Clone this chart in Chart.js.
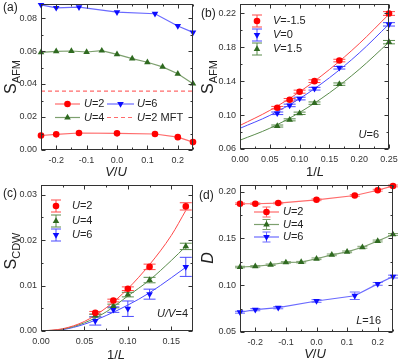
<!DOCTYPE html>
<html>
<head>
<meta charset="utf-8">
<script src="https://cdn.jsdelivr.net/npm/chart.js@4.4.0/dist/chart.umd.min.js"></script>
<style>
html, body { margin: 0; padding: 0; background: #fff; }
#fig { position: relative; width: 399px; height: 362px; }
#fig canvas { position: absolute; }
</style>
</head>
<body>
<div id="fig">
  <canvas id="pa" width="200" height="181" style="left:0;top:0"></canvas>
  <canvas id="pb" width="200" height="181" style="left:199px;top:0"></canvas>
  <canvas id="pc" width="200" height="181" style="left:0;top:181px"></canvas>
  <canvas id="pd" width="200" height="181" style="left:199px;top:181px"></canvas>
</div>
<script>
// ---- data (a): S_AFM vs V/U, L=16
const vuCoarse = [-0.25, -0.2, -0.125, 0, 0.125, 0.2, 0.25];
const vuFine = [-0.25, -0.2, -0.15, -0.1, -0.05, 0, 0.05, 0.1, 0.15, 0.2, 0.25];
const afmU2 = [0.0088, 0.0095, 0.0103, 0.0101, 0.0097, 0.0078, 0.0048];
const afmU4 = [0.0592, 0.0598, 0.0600, 0.0594, 0.0602, 0.0580, 0.0554, 0.0532, 0.0504, 0.0462, 0.0402];
const afmU6 = [0.0880, 0.0862, 0.0866, 0.0836, 0.0826, 0.0752, 0.0713];
const afmMftU2 = 0.0357;

// ---- data (b): S_AFM vs 1/L, U=6
const invL = [0.0625, 0.0833, 0.1, 0.125, 0.1667, 0.25];
const afmVm15 = [0.1087, 0.1180, 0.1276, 0.1400, 0.1643, 0.2198];
const afmV0 = [0.1021, 0.1114, 0.1195, 0.1311, 0.1558, 0.2070];
const afmVp15 = [0.0871, 0.0944, 0.1021, 0.1141, 0.1365, 0.1860];
const errVm15 = [0.0015, 0.0015, 0.0018, 0.0016, 0.0015, 0.0022];
const errV0 = [0.0015, 0.0015, 0.0016, 0.0016, 0.0015, 0.0020];
const errVp15 = [0.0012, 0.0012, 0.0014, 0.0014, 0.0014, 0.0020];
const fitXb = [0, 0.05, 0.1, 0.15, 0.2, 0.25];
const fitVm15 = [0.0878, 0.1055, 0.1274, 0.1537, 0.1842, 0.2190];
const fitV0 = [0.0844, 0.0996, 0.1194, 0.1440, 0.1732, 0.2072];
const fitVp15 = [0.0704, 0.0845, 0.1031, 0.1262, 0.1539, 0.1860];

// ---- data (c): S_CDW vs 1/L, U/V=4
const invLc = [0.0625, 0.0833, 0.1, 0.125, 0.1667];
const cdwU2 = [0.0040, 0.0067, 0.0093, 0.0141, 0.0274];
const cdwU4 = [0.0034, 0.0055, 0.0080, 0.0112, 0.0186];
const cdwU6 = [0.0022, 0.0047, 0.0049, 0.0081, 0.0141];
const errCdwU2 = [0.0003, 0.0003, 0.0004, 0.0006, 0.0008];
const errCdwU4 = [0.0003, 0.0004, 0.0005, 0.0006, 0.0007];
const errCdwU6 = [0.0009, 0.0006, 0.0017, 0.0011, 0.0021];
const fitXc = [0, 0.025, 0.05, 0.075, 0.1, 0.125, 0.15, 0.1667];
const fitCdwU2 = [0, 0.0005, 0.0021, 0.0051, 0.0093, 0.0146, 0.0210, 0.0265];
const fitCdwU4 = [0, 0.0004, 0.0018, 0.0042, 0.0077, 0.0112, 0.0155, 0.0186];
const fitCdwU6 = [0, 0.0003, 0.0015, 0.0034, 0.0057, 0.0084, 0.0117, 0.0140];

// ---- data (d): D vs V/U, L=16
const dU2 = [0.1870, 0.1870, 0.1877, 0.1912, 0.1958, 0.2014, 0.2060];
const dU4 = [0.1194, 0.1201, 0.1218, 0.1243, 0.1246, 0.1282, 0.1324, 0.1356, 0.1405, 0.1472, 0.1542];
const dU6 = [0.0711, 0.0739, 0.0760, 0.0831, 0.0887, 0.1014, 0.1092];
const errDU2 = [0.0008, 0.0008, 0.0008, 0.0009, 0.0009, 0.0010, 0.0010];
const errDU4 = [0.0008, 0.0008, 0.0008, 0.0008, 0.0008, 0.0009, 0.0009, 0.0009, 0.0010, 0.0010, 0.0010];
const errDU6 = [0.0010, 0.0012, 0.0012, 0.0014, 0.0040, 0.0015, 0.0015];

// ---- ticks
const ticksVU = [-0.2, -0.1, 0, 0.1, 0.2];
const minorVU = [-0.25, -0.15, -0.05, 0.05, 0.15, 0.25];
const ticksYa = [0, 0.02, 0.04, 0.06, 0.08];
const minorYa = [0.01, 0.03, 0.05, 0.07];
const ticksXb = [0, 0.05, 0.1, 0.15, 0.2, 0.25];
const minorXb = [0.025, 0.075, 0.125, 0.175, 0.225];
const ticksYb = [0.06, 0.10, 0.14, 0.18, 0.22];
const minorYb = [0.08, 0.12, 0.16, 0.20];
const ticksXc = [0, 0.05, 0.1, 0.15];
const minorXc = [0.025, 0.075, 0.125];
const ticksYc = [0, 0.01, 0.02, 0.03];
const minorYc = [0.005, 0.015, 0.025];
const ticksYd = [0.05, 0.10, 0.15, 0.20];
const minorYd = [0.075, 0.125, 0.175];

const FONT = '"Liberation Sans", Arial, sans-serif';
const RED = "#ff0000", RED_LN = "#ff6b6b", RED_FIT = "#ff4848";
const BLUE = "#0c0cff", BLUE_LN = "#6a6aff", BLUE_FIT = "#4a4aff";
const GREEN = "#2f6a20", GREEN_LN = "#7da06e", GREEN_FIT = "#5a8c4c";

const pts = (xs, ys) => xs.map((x, i) => ({ x: x, y: ys[i] }));

const series = (xs, ys, mk, ln, style, extra) => Object.assign({
  data: pts(xs, ys),
  borderColor: ln, backgroundColor: mk,
  pointBackgroundColor: mk, pointBorderColor: mk,
  pointStyle: style === "down" ? "triangle" : style,
  pointRotation: style === "down" ? 180 : 0,
  pointRadius: style === "circle" ? 3.3 : 3.8,
  pointBorderWidth: 0,
  borderWidth: 1.2, showLine: true, clip: false, tension: 0,
  errColor: ln
}, extra || {});

const fitLine = (xs, ys, col) => ({
  data: pts(xs, ys), borderColor: col, borderWidth: 1,
  pointRadius: 0, showLine: true, tension: 0.4, cubicInterpolationMode: "monotone"
});

const errorBars = {
  id: "errorBars",
  beforeDatasetsDraw(chart) {
    const ctx = chart.ctx, ys = chart.scales.y;
    chart.data.datasets.forEach((ds, i) => {
      if (!ds.errors) return;
      const meta = chart.getDatasetMeta(i);
      ctx.save();
      ctx.strokeStyle = ds.errColor;
      ctx.lineWidth = 1;
      meta.data.forEach((p, j) => {
        const v = ds.data[j].y, e = ds.errors[j], c = ds.capW || 5;
        const y1 = ys.getPixelForValue(v + e), y2 = ys.getPixelForValue(v - e);
        ctx.beginPath();
        ctx.moveTo(p.x, y1); ctx.lineTo(p.x, y2);
        ctx.moveTo(p.x - c, y1); ctx.lineTo(p.x + c, y1);
        ctx.moveTo(p.x - c, y2); ctx.lineTo(p.x + c, y2);
        ctx.stroke();
      });
      ctx.restore();
    });
  }
};

// text with italic pieces: parts = [[text, italic], ...]
function rich(ctx, parts, x, y, size, align) {
  let w = 0;
  parts.forEach(p => { ctx.font = (p[1] ? "italic " : "") + size + "px " + FONT; w += ctx.measureText(p[0]).width; });
  let cx = align === "right" ? x - w : align === "center" ? x - w / 2 : x;
  ctx.textAlign = "left"; ctx.textBaseline = "middle";
  parts.forEach(p => {
    ctx.font = (p[1] ? "italic " : "") + size + "px " + FONT;
    ctx.fillText(p[0], cx, y);
    cx += ctx.measureText(p[0]).width;
  });
}

function marker(ctx, ds, x, y) {
  ctx.fillStyle = ds.pointBackgroundColor;
  ctx.strokeStyle = ds.pointBackgroundColor;
  Chart.helpers.drawPoint(ctx, { pointStyle: ds.pointStyle, rotation: ds.pointRotation, radius: ds.pointRadius, borderWidth: 0 }, x, y);
}

function deco(o) {
  return {
    id: "deco",
    afterDraw(chart) {
      const ctx = chart.ctx, a = chart.chartArea, xs = chart.scales.x, ys = chart.scales.y;
      const L = Math.round(a.left) + 0.5, R = Math.round(a.right) - 0.5;
      const T = Math.round(a.top) + 0.5, B = Math.round(a.bottom) - 0.5;
      ctx.save();
      ctx.strokeStyle = "#333"; ctx.lineWidth = 1;
      ctx.strokeRect(L, T, R - L, B - T);
      const tk = (vals, len, sc, horiz) => vals.forEach(v => {
        const p = Math.round(sc.getPixelForValue(v)) + 0.5;
        ctx.beginPath();
        if (horiz) { ctx.moveTo(p, B); ctx.lineTo(p, B - len); ctx.moveTo(p, T); ctx.lineTo(p, T + len); }
        else { ctx.moveTo(L, p); ctx.lineTo(L + len, p); ctx.moveTo(R, p); ctx.lineTo(R - len, p); }
        ctx.stroke();
      });
      tk(o.x.ticks, 4, xs, true); tk(o.x.minor, 2, xs, true);
      tk(o.y.ticks, 4, ys, false); tk(o.y.minor, 2, ys, false);

      ctx.fillStyle = "#222";
      rich(ctx, [[o.tag, 0]], o.tagPos[0], o.tagPos[1], 12, "left");
      rich(ctx, o.xTitle, o.xTitlePos[0], o.xTitlePos[1], 13, "center");
      // rotated y title with subscript
      ctx.save();
      ctx.translate(o.yTitlePos[0], o.yTitlePos[1]);
      ctx.rotate(-Math.PI / 2);
      ctx.font = (o.yTitle[2] ? "italic " : "") + "16px " + FONT;
      const w1 = ctx.measureText(o.yTitle[0]).width;
      ctx.font = "11px " + FONT;
      const w2 = ctx.measureText(o.yTitle[1]).width;
      let sx = -(w1 + w2) / 2;
      ctx.textBaseline = "middle"; ctx.textAlign = "left";
      ctx.font = (o.yTitle[2] ? "italic " : "") + "16px " + FONT;
      ctx.fillText(o.yTitle[0], sx, 0);
      ctx.font = "11px " + FONT;
      ctx.fillText(o.yTitle[1], sx + w1, 5);
      ctx.restore();

      if (o.note) rich(ctx, o.note, o.notePos[0], o.notePos[1], 11, "right");

      o.legend.forEach(e => {
        const ds = chart.data.datasets[e.ds];
        ctx.save();
        ctx.lineWidth = 1.2;
        if (e.kind === "line" || e.kind === "lineErr" || e.kind === "dash") {
          ctx.strokeStyle = ds.borderColor;
          if (e.kind === "dash") ctx.setLineDash([4, 3]);
          ctx.beginPath(); ctx.moveTo(e.x - e.half, e.y); ctx.lineTo(e.x + e.half, e.y); ctx.stroke();
          ctx.setLineDash([]);
        }
        if (e.kind === "err" || e.kind === "lineErr") {
          const h = e.kind === "err" ? 6 : 5, c = e.kind === "err" ? 5 : 4;
          ctx.strokeStyle = ds.errColor; ctx.lineWidth = 1;
          ctx.beginPath();
          ctx.moveTo(e.x, e.y - h); ctx.lineTo(e.x, e.y + h);
          ctx.moveTo(e.x - c, e.y - h); ctx.lineTo(e.x + c, e.y - h);
          ctx.moveTo(e.x - c, e.y + h); ctx.lineTo(e.x + c, e.y + h);
          ctx.stroke();
        }
        if (e.kind !== "dash") marker(ctx, ds, e.x, e.y);
        ctx.restore();
        ctx.fillStyle = "#222";
        rich(ctx, e.label, e.tx, e.y, 11, "left");
      });
      ctx.restore();
    }
  };
}

function panel(id, datasets, o) {
  const tickFont = { family: FONT, size: 9 };
  return new Chart(document.getElementById(id), {
    type: "line",
    data: { datasets: datasets },
    options: {
      responsive: false, animation: false, devicePixelRatio: 1,
      layout: { padding: { left: 0, top: o.area[2], right: 200 - o.area[1], bottom: 0 } },
      plugins: { legend: { display: false }, tooltip: { enabled: false } },
      scales: {
        x: {
          type: "linear", min: o.x.min, max: o.x.max,
          grid: { display: false, drawTicks: false }, border: { display: false },
          afterBuildTicks: s => { s.ticks = o.x.ticks.map(v => ({ value: v })); },
          afterFit: s => { s.height = 181 - o.area[3]; s.paddingLeft = 0; s.paddingRight = 0; },
          ticks: { padding: 5, color: "#333", font: tickFont, maxRotation: 0, autoSkip: false,
                   callback: v => v.toFixed(o.x.dec) }
        },
        y: {
          type: "linear", min: o.y.min, max: o.y.max,
          grid: { display: false, drawTicks: false }, border: { display: false },
          afterBuildTicks: s => { s.ticks = o.y.ticks.map(v => ({ value: v })); },
          afterFit: s => { s.width = o.area[0]; s.paddingTop = 0; s.paddingBottom = 0; },
          ticks: { padding: 4, color: "#333", font: tickFont, autoSkip: false,
                   callback: v => v.toFixed(o.y.dec) }
        }
      }
    },
    plugins: [errorBars, deco(o)]
  });
}

// (a)
panel("pa", [
  series(vuCoarse, afmU2, RED, RED_LN, "circle"),
  series(vuFine, afmU4, GREEN, GREEN_LN, "triangle"),
  series(vuCoarse, afmU6, BLUE, BLUE_LN, "down"),
  { data: pts([-0.25, 0.25], [afmMftU2, afmMftU2]), borderColor: RED_LN, borderWidth: 1.2,
    borderDash: [4, 3], pointRadius: 0, showLine: true }
], {
  area: [41, 193, 1, 150],
  x: { min: -0.25, max: 0.25, ticks: ticksVU, minor: minorVU, dec: 1 },
  y: { min: 0, max: 0.0885, ticks: ticksYa, minor: minorYa, dec: 2 },
  tag: "(a)", tagPos: [3, 8],
  xTitle: [["V", 1], ["/", 0], ["U", 1]], xTitlePos: [116, 172],
  yTitle: ["S", "AFM", 0], yTitlePos: [12, 77],
  legend: [
    { ds: 0, kind: "line", x: 67.5, half: 12.5, y: 104, tx: 84, label: [["U", 1], ["=2", 0]] },
    { ds: 1, kind: "line", x: 67.5, half: 12.5, y: 117.5, tx: 84, label: [["U", 1], ["=4", 0]] },
    { ds: 2, kind: "line", x: 120.5, half: 13.5, y: 104, tx: 137, label: [["U", 1], ["=6", 0]] },
    { ds: 3, kind: "dash", x: 120.5, half: 13.5, y: 117.5, tx: 137, label: [["U", 1], ["=2 MFT", 0]] }
  ]
});

// (b)
panel("pb", [
  series(invL, afmVm15, RED, RED_FIT, "circle", { showLine: false, errors: errVm15, capW: 6 }),
  series(invL, afmV0, BLUE, BLUE_FIT, "down", { showLine: false, errors: errV0, capW: 6 }),
  series(invL, afmVp15, GREEN, GREEN_FIT, "triangle", { showLine: false, errors: errVp15, capW: 6 }),
  fitLine(fitXb, fitVm15, RED_FIT),
  fitLine(fitXb, fitV0, BLUE_FIT),
  fitLine(fitXb, fitVp15, GREEN_FIT)
], {
  area: [41, 190, 1, 149],
  x: { min: 0, max: 0.25, ticks: ticksXb, minor: minorXb, dec: 2 },
  y: { min: 0.06, max: 0.231, ticks: ticksYb, minor: minorYb, dec: 2 },
  tag: "(b)", tagPos: [2, 14],
  xTitle: [["1/", 0], ["L", 1]], xTitlePos: [116, 172],
  yTitle: ["S", "AFM", 0], yTitlePos: [10, 77],
  note: [["U", 1], ["=6", 0]], notePos: [180, 135],
  legend: [
    { ds: 0, kind: "err", x: 58, y: 21, tx: 74, label: [["V", 1], ["=-1.5", 0]] },
    { ds: 1, kind: "err", x: 58, y: 35, tx: 74, label: [["V", 1], ["=0", 0]] },
    { ds: 2, kind: "err", x: 58, y: 49, tx: 74, label: [["V", 1], ["=1.5", 0]] }
  ]
});

// (c)
panel("pc", [
  series(invLc, cdwU2, RED, RED_FIT, "circle", { showLine: false, errors: errCdwU2, capW: 6 }),
  series(invLc, cdwU4, GREEN, GREEN_FIT, "triangle", { showLine: false, errors: errCdwU4, capW: 6 }),
  series(invLc, cdwU6, BLUE, BLUE_FIT, "down", { showLine: false, errors: errCdwU6, capW: 6 }),
  fitLine(fitXc, fitCdwU2, RED_FIT),
  fitLine(fitXc, fitCdwU4, GREEN_FIT),
  fitLine(fitXc, fitCdwU6, BLUE_FIT)
], {
  area: [41, 193, 4, 150],
  x: { min: 0, max: 0.175, ticks: ticksXc, minor: minorXc, dec: 2 },
  y: { min: 0, max: 0.0321, ticks: ticksYc, minor: minorYc, dec: 2 },
  tag: "(c)", tagPos: [3, 13],
  xTitle: [["1/", 0], ["L", 1]], xTitlePos: [116, 174],
  yTitle: ["S", "CDW", 0], yTitlePos: [12, 70],
  note: [["U/V", 1], ["=4", 0]], notePos: [188, 133],
  legend: [
    { ds: 0, kind: "err", x: 56, y: 25, tx: 72, label: [["U", 1], ["=2", 0]] },
    { ds: 1, kind: "err", x: 56, y: 40, tx: 72, label: [["U", 1], ["=4", 0]] },
    { ds: 2, kind: "err", x: 56, y: 54, tx: 72, label: [["U", 1], ["=6", 0]] }
  ]
});

// (d)
panel("pd", [
  series(vuCoarse, dU2, RED, RED_LN, "circle", { errors: errDU2, capW: 5 }),
  series(vuFine, dU4, GREEN, GREEN_LN, "triangle", { errors: errDU4, capW: 5 }),
  series(vuCoarse, dU6, BLUE, BLUE_LN, "down", { errors: errDU6, capW: 5 })
], {
  area: [41, 194, 2, 151],
  x: { min: -0.25, max: 0.25, ticks: ticksVU, minor: minorVU, dec: 1 },
  y: { min: 0.05, max: 0.207, ticks: ticksYd, minor: minorYd, dec: 2 },
  tag: "(d)", tagPos: [0, 15],
  xTitle: [["V", 1], ["/", 0], ["U", 1]], xTitlePos: [116, 173],
  yTitle: ["D", "", 1], yTitlePos: [10, 77],
  note: [["L", 1], ["=16", 0]], notePos: [182, 140],
  legend: [
    { ds: 0, kind: "lineErr", x: 67.5, half: 12.5, y: 31, tx: 84, label: [["U", 1], ["=2", 0]] },
    { ds: 1, kind: "lineErr", x: 67.5, half: 12.5, y: 43.5, tx: 84, label: [["U", 1], ["=4", 0]] },
    { ds: 2, kind: "lineErr", x: 67.5, half: 12.5, y: 56, tx: 84, label: [["U", 1], ["=6", 0]] }
  ]
});
</script>
</body>
</html>
